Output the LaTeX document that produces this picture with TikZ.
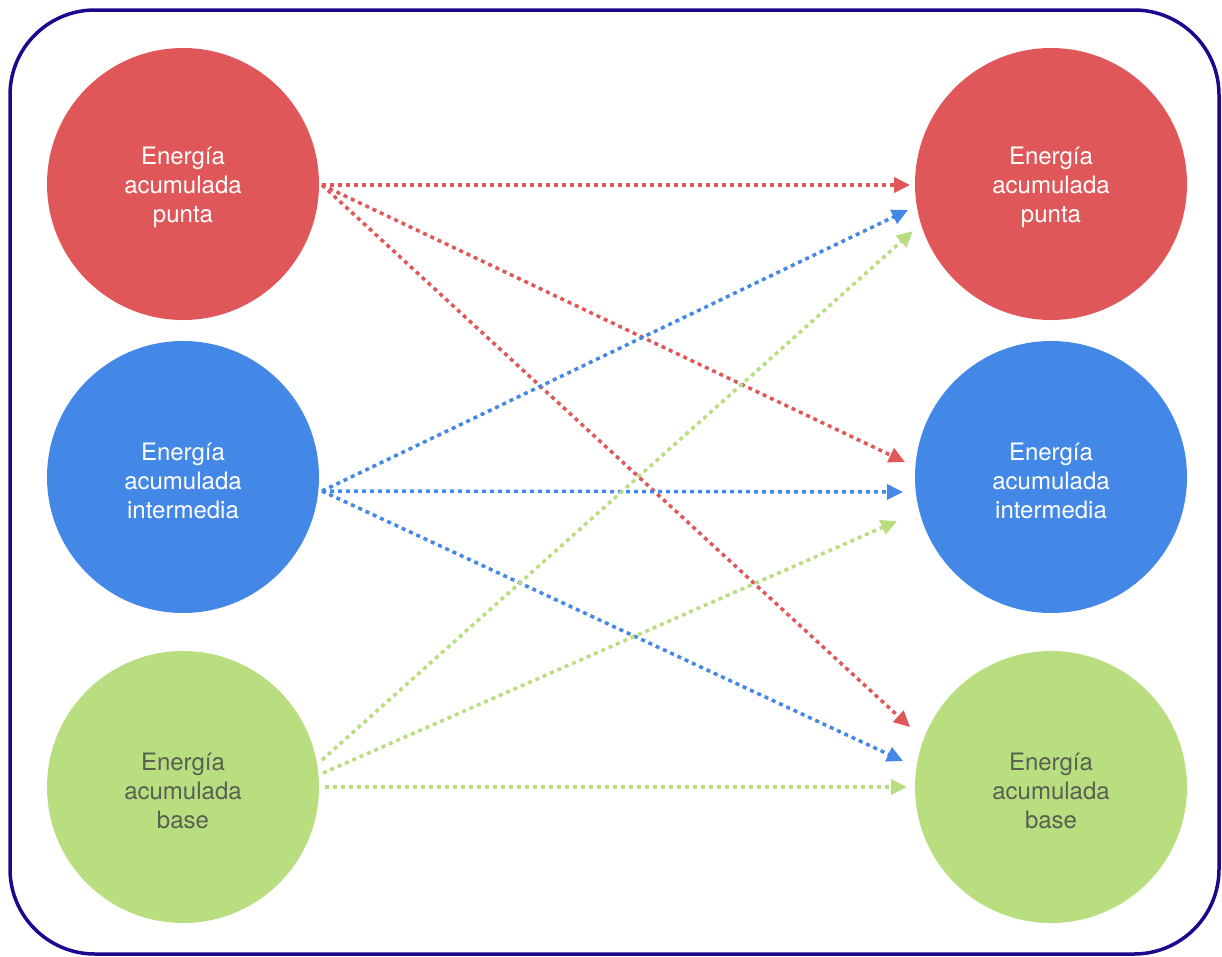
\documentclass[tikz,border=0pt]{standalone}
\usepackage{fontspec}
\setmainfont{TeX Gyre Heros}
\usetikzlibrary{arrows.meta,calc}
\definecolor{cred}{RGB}{224,87,89}
\definecolor{cblue}{RGB}{67,136,230}
\definecolor{cgreen}{RGB}{184,222,128}
\definecolor{cframe}{RGB}{28,8,142}
\definecolor{ctext}{RGB}{88,96,80}
\begin{document}
\begin{tikzpicture}[x=1pt,y=-1pt,
  bub/.style={circle,minimum size=272pt,inner sep=0pt},
  bubtext/.style={align=center,inner sep=0pt,font=\fontsize{24}{29}\selectfont},
  con/.style={line width=3.5pt,dash pattern=on 4pt off 4pt,-{Triangle[length=16pt,width=15pt]}}]
\useasboundingbox (0,0) rectangle (1222,956);
\draw[cframe,line width=3.5pt,rounded corners=85pt] (10,10) rectangle (1219,954);
% circles
\node[bub,fill=cred] (L1) at (183,184) {};
\node[bub,fill=cblue] (L2) at (183,477) {};
\node[bub,fill=cgreen] (L3) at (183,787) {};
\node[bub,fill=cred] (R1) at (1051,184) {};
\node[bub,fill=cblue] (R2) at (1051,477) {};
\node[bub,fill=cgreen] (R3) at (1051,787) {};
% texts
\node[bubtext,text=white] (L1t) at ([yshift=-3.5pt]L1.center) {Energía\\acumulada\\punta};
\node[bubtext,text=white] (L2t) at ([yshift=-3.5pt]L2.center) {Energía\\acumulada\\intermedia};
\node[bubtext,text=ctext] (L3t) at ([yshift=-3.5pt]L3.center) {Energía\\acumulada\\base};
\node[bubtext,text=white] (R1t) at ([yshift=-3.5pt]R1.center) {Energía\\acumulada\\punta};
\node[bubtext,text=white] (R2t) at ([yshift=-3.5pt]R2.center) {Energía\\acumulada\\intermedia};
\node[bubtext,text=ctext] (R3t) at ([yshift=-3.5pt]R3.center) {Energía\\acumulada\\base};
% start points
\coordinate (sR) at ($(L1)+(139,1)$);
\coordinate (sB) at ($(L2)+(139,14)$);
\coordinate (sG1) at ($(L3)+(139,-27)$);
\coordinate (sG2) at ($(L3)+(140,-14)$);
\coordinate (sG3) at ($(L3)+(142,0)$);
% end points
\coordinate (tR1) at ($(R1)+(-141,1)$);
\coordinate (tR2) at ($(R2)+(-146,-15)$);
\coordinate (tR3) at ($(R3)+(-141,-60)$);
\coordinate (tB1) at ($(R1)+(-143,26)$);
\coordinate (tB2) at ($(R2)+(-148,15)$);
\coordinate (tB3) at ($(R3)+(-148,-26)$);
\coordinate (tG1) at ($(R1)+(-138,47)$);
\coordinate (tG2) at ($(R2)+(-154,44)$);
\coordinate (tG3) at ($(R3)+(-144,0)$);
% connectors
\draw[con,cred] (sR) -- (tR1);
\draw[con,cred] (sR) -- (tR2);
\draw[con,cred] (sR) -- (tR3);
\draw[con,cblue] (sB) -- (tB1);
\draw[con,cblue] (sB) -- (tB2);
\draw[con,cblue] (sB) -- (tB3);
\draw[con,cgreen] (sG1) -- (tG1);
\draw[con,cgreen] (sG2) -- (tG2);
\draw[con,cgreen] (sG3) -- (tG3);
\end{tikzpicture}
\end{document}
